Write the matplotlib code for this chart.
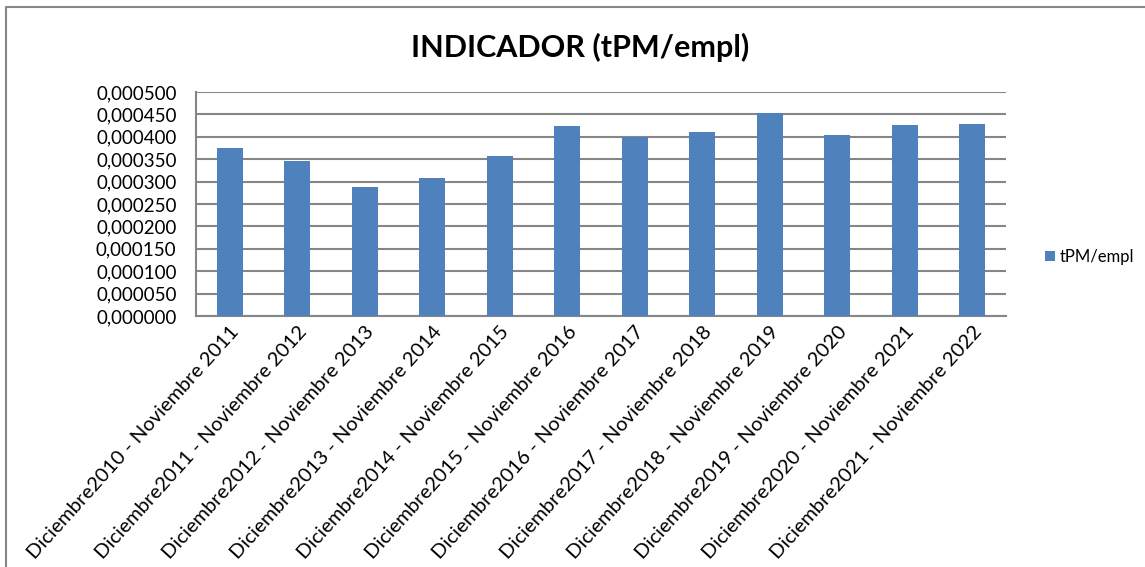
import matplotlib
matplotlib.use("Agg")
import matplotlib.pyplot as plt
from matplotlib.ticker import FuncFormatter, MultipleLocator
from matplotlib.lines import Line2D

categories = [f"Diciembre{y} - Noviembre {y+1}" for y in range(2010, 2022)]
values = [0.000375, 0.000346, 0.000288, 0.000307, 0.000357, 0.000424,
          0.000400, 0.000410, 0.000454, 0.000405, 0.000426, 0.000429]
series_name = "tPM/empl"
title = "INDICADOR (tPM/empl)"

plt.rcParams['font.family'] = ['Lato', 'DejaVu Sans']

W, H = 1145, 567
fig = plt.figure(figsize=(W/100, H/100), dpi=100)
ax = fig.add_axes([196/W, 1-316/H, (1006-196)/W, (316-92)/H])

x = list(range(len(categories)))
bars = ax.bar(x, values, width=0.39, color='#4F81BD', label=series_name, zorder=3)
ax.set_xlim(-0.5, len(categories)-0.5)
ax.set_ylim(0, 0.0005)
ax.yaxis.set_major_locator(MultipleLocator(0.00005))
ax.yaxis.set_major_formatter(FuncFormatter(lambda v, p: f"{v:.6f}".replace('.', ',')))
ax.grid(axis='y', color='#868686', linewidth=1.5, zorder=0)
ax.set_xticks(x)
ax.set_xticklabels(categories, rotation=48, ha='right', rotation_mode='anchor', fontsize=14.5, color='#000000')
ax.tick_params(axis='y', labelsize=13.5, length=0, pad=14)
ax.tick_params(axis='x', length=0, pad=5)
for s in ['top', 'right']:
    ax.spines[s].set_visible(False)
for s in ['left', 'bottom']:
    ax.spines[s].set_color('#868686')
    ax.spines[s].set_linewidth(1.5)

fig.text(580/W, 1-47/H, title, ha='center', va='center', fontsize=22, fontweight='bold')

fig.legend(handles=[bars], labels=[series_name], loc='center left',
           bbox_to_anchor=(1030/W, 1-257/H), frameon=False, fontsize=12,
           handlelength=0.6, handleheight=0.6, handletextpad=0.3)

# outer frame (top and left edges visible)
fig.add_artist(Line2D([6/W, 6/W, 1], [0, 1-7/H, 1-7/H], transform=fig.transFigure,
                      color='#868686', linewidth=1.5))

fig.savefig('out.png', dpi=100, facecolor='white')
